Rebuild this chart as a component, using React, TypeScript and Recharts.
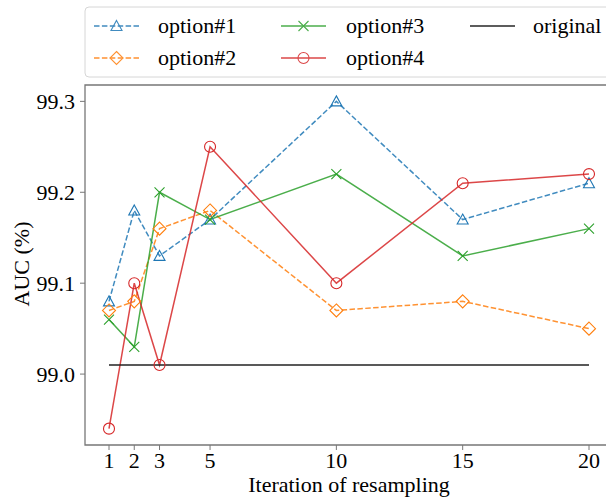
import React from "react";
import {
  LineChart,
  Line,
  XAxis,
  YAxis,
  ReferenceArea,
} from "recharts";

const iterations = [1, 2, 3, 5, 10, 15, 20];
const option1 = [99.08, 99.18, 99.13, 99.17, 99.3, 99.17, 99.21];
const option2 = [99.07, 99.08, 99.16, 99.18, 99.07, 99.08, 99.05];
const option3 = [99.06, 99.03, 99.2, 99.17, 99.22, 99.13, 99.16];
const option4 = [98.94, 99.1, 99.01, 99.25, 99.1, 99.21, 99.22];
const original = [99.01, 99.01, 99.01, 99.01, 99.01, 99.01, 99.01];
const yTicks = [99.0, 99.1, 99.2, 99.3];
const seriesNames = ["option#1", "option#2", "option#3", "option#4", "original"];

const data = iterations.map((it, i) => ({
  it,
  o1: option1[i],
  o2: option2[i],
  o3: option3[i],
  o4: option4[i],
  orig: original[i],
}));

const FONT = "'Liberation Serif', 'Times New Roman', serif";
const C1 = "#1f77b4";
const C2 = "#ff7f0e";
const C3 = "#2ca02c";
const C4 = "#d62728";
const AXIS = "#777777";

const Marker = ({ kind, cx, cy, color }: any) => {
  if (cx == null || cy == null) return null;
  if (kind === "tri")
    return (
      <path
        d={`M${cx},${cy - 5.5}L${cx + 5.5},${cy + 4.5}L${cx - 5.5},${cy + 4.5}Z`}
        fill="none"
        stroke={color}
        strokeWidth={1.1}
      />
    );
  if (kind === "dia")
    return (
      <path
        d={`M${cx},${cy - 6.5}L${cx + 6.5},${cy}L${cx},${cy + 6.5}L${cx - 6.5},${cy}Z`}
        fill="none"
        stroke={color}
        strokeWidth={1.1}
      />
    );
  if (kind === "x")
    return (
      <path
        d={`M${cx - 5},${cy - 5}L${cx + 5},${cy + 5}M${cx - 5},${cy + 5}L${cx + 5},${cy - 5}`}
        fill="none"
        stroke={color}
        strokeWidth={1.1}
      />
    );
  if (kind === "circ")
    return <circle cx={cx} cy={cy} r={5.5} fill="none" stroke={color} strokeWidth={1.1} />;
  return null;
};

const legendItems = [
  { name: seriesNames[0], color: C1, kind: "tri", dash: "5.5 2.4", col: 0, row: 0 },
  { name: seriesNames[1], color: C2, kind: "dia", dash: "5.5 2.4", col: 0, row: 1 },
  { name: seriesNames[2], color: C3, kind: "x", dash: undefined, col: 1, row: 0 },
  { name: seriesNames[3], color: C4, kind: "circ", dash: undefined, col: 1, row: 1 },
  { name: seriesNames[4], color: "#000", kind: "none", dash: undefined, col: 2, row: 0 },
];

const LegendBox = () => (
  <svg width={640} height={84} style={{ display: "block", position: "absolute", left: 0, top: 0 }}>
    <rect x={85} y={7} width={600} height={70} rx={4} ry={4} fill="#fff" stroke="#d6d6d6" strokeWidth={1} />
    {legendItems.map((it) => {
      const x0 = [94, 281, 470][it.col];
      const yc = [26, 58][it.row];
      return (
        <g key={it.name}>
          <g opacity={0.85}>
            <line
              x1={x0}
              x2={x0 + 45}
              y1={yc}
              y2={yc}
              stroke={it.color}
              strokeWidth={1.5}
              strokeDasharray={it.dash}
            />
            <Marker kind={it.kind} cx={x0 + 22.5} cy={yc} color={it.color} />
          </g>
          <text
            x={[158, 346, 533][it.col]}
            y={yc + 6.5}
            style={{ fontFamily: FONT }}
            fontSize={22}
            fill="#000"
          >
            {it.name}
          </text>
        </g>
      );
    })}
  </svg>
);

const XLabel = (props: any) => {
  const vb = props.viewBox || {};
  return (
    <text
      x={vb.x + vb.width / 2}
      y={492}
      textAnchor="middle"
      style={{ fontFamily: FONT }}
      fontSize={22}
      fill="#000"
    >
      Iteration of resampling
    </text>
  );
};

const YLabel = () => (
  <text
    x={29}
    y={264}
    transform="rotate(-90, 29, 264)"
    textAnchor="middle"
    style={{ fontFamily: FONT }}
    fontSize={22}
    fill="#000"
  >
    AUC (%)
  </text>
);

export default function App() {
  const tickStyle = { fontFamily: FONT, fontSize: 22, fill: "#000", style: { fontFamily: FONT } };
  return (
    <div
      style={{
        position: "absolute",
        left: 0,
        top: 0,
        width: 606,
        height: 499,
        overflow: "hidden",
        background: "#fff",
      }}
    >
      <LineChart
        width={640}
        height={499}
        data={data}
        margin={{ top: 85, right: 27, bottom: 0, left: 0 }}
      >
        <XAxis
          dataKey="it"
          type="number"
          domain={[0.05, 20.95]}
          ticks={iterations}
          allowDataOverflow
          height={54}
          axisLine={false}
          tickLine={{ stroke: AXIS, strokeWidth: 1 }}
          tickSize={5}
          tickMargin={2}
          tick={tickStyle}
          interval={0}
          label={<XLabel />}
        />
        <YAxis
          type="number"
          domain={[98.922, 99.318]}
          ticks={yTicks}
          allowDataOverflow
          width={85}
          axisLine={false}
          tickLine={{ stroke: AXIS, strokeWidth: 1 }}
          tickSize={5}
          tickMargin={5}
          tick={tickStyle}
          tickFormatter={(v: number) => v.toFixed(1)}
          interval={0}
          label={<YLabel />}
        />
        <ReferenceArea
          x1={0.05}
          x2={20.95}
          y1={98.922}
          y2={99.318}
          fill="none"
          stroke={AXIS}
          strokeWidth={1.3}
          ifOverflow="visible"
        />
        <Line
          dataKey="o1"
          name={seriesNames[0]}
          stroke={C1}
          strokeWidth={1.5}
          strokeDasharray="5.5 2.4"
          strokeOpacity={0.85}
          isAnimationActive={false}
          dot={(p: any) => <Marker key={`a${p.index}`} kind="tri" cx={p.cx} cy={p.cy} color={C1} />}
        />
        <Line
          dataKey="o2"
          name={seriesNames[1]}
          stroke={C2}
          strokeWidth={1.5}
          strokeDasharray="5.5 2.4"
          strokeOpacity={0.85}
          isAnimationActive={false}
          dot={(p: any) => <Marker key={`b${p.index}`} kind="dia" cx={p.cx} cy={p.cy} color={C2} />}
        />
        <Line
          dataKey="o3"
          name={seriesNames[2]}
          stroke={C3}
          strokeWidth={1.5}
          strokeOpacity={0.85}
          isAnimationActive={false}
          dot={(p: any) => <Marker key={`c${p.index}`} kind="x" cx={p.cx} cy={p.cy} color={C3} />}
        />
        <Line
          dataKey="o4"
          name={seriesNames[3]}
          stroke={C4}
          strokeWidth={1.5}
          strokeOpacity={0.85}
          isAnimationActive={false}
          dot={(p: any) => <Marker key={`d${p.index}`} kind="circ" cx={p.cx} cy={p.cy} color={C4} />}
        />
        <Line
          dataKey="orig"
          name={seriesNames[4]}
          stroke="#222"
          strokeWidth={1.5}
          isAnimationActive={false}
          dot={false}
        />
      </LineChart>
      <LegendBox />
    </div>
  );
}
